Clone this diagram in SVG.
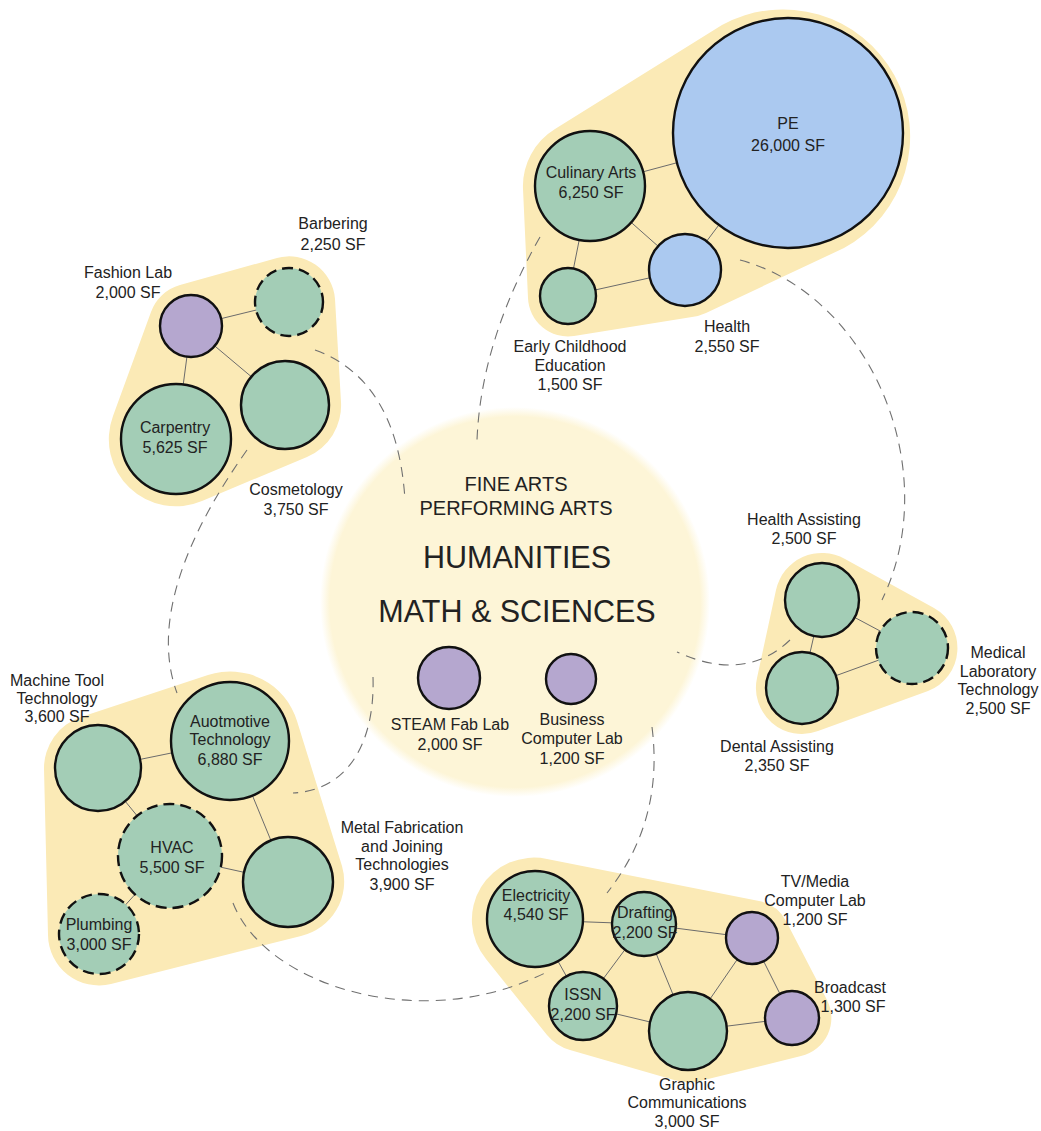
<svg xmlns="http://www.w3.org/2000/svg" width="1041" height="1131" viewBox="0 0 1041 1131">
<defs>
<radialGradient id="core" cx="50%" cy="50%" r="50%">
<stop offset="0.95" stop-color="#fdf5d7"/>
<stop offset="1" stop-color="#fdf5d7" stop-opacity="0"/>
</radialGradient>
<style>
.blob{fill:#fbeab6}
.edge{stroke:#6b6b6b;stroke-width:1;fill:none}
.arc{stroke:#707070;stroke-width:1.1;fill:none;stroke-dasharray:10 7}
.n{stroke:#111;stroke-width:2.4}
.dash{stroke-dasharray:11 6}
.g{fill:#a3cdb6}
.p{fill:#b5a7cf}
.b{fill:#abc9f0}
text{font-family:"Liberation Sans",Arial,Helvetica,sans-serif;font-size:16px;fill:#222;text-anchor:middle}
.big{font-size:30.5px}
.mid{font-size:20px}
</style>
</defs>
<rect width="1041" height="1131" fill="#ffffff"/>

<g id="backgrounds">
<circle id="core-area" cx="515" cy="602" r="195" fill="url(#core)"/>
<path id="blob-top" class="blob" d="M574,336 L692,317 A48 48 0 0 0 706,313 L844,248 A127 127 0 1 0 722,25 L555,129 A67 67 0 0 0 523,189 L528,298 A40 40 0 0 0 574,336 Z"/>
<path id="blob-lefttop" class="blob" d="M202,501 L307,457 A56 56 0 0 0 341,402 L335,299 A46 46 0 0 0 277,258 L180,285 A43 43 0 0 0 151,312 L113,416 A67 67 0 0 0 202,501 Z"/>
<path id="blob-leftbottom" class="blob" d="M111,984 L301,936 A56 56 0 0 0 342,866 L297,721 A70 70 0 0 0 208,675 L81,717 A54 54 0 0 0 44,769 L48,935 A51 51 0 0 0 111,984 Z"/>
<path id="blob-right" class="blob" d="M818,731 L928,691 A46 46 0 0 0 934,608 L845,559 A47 47 0 0 0 776,590 L757,678 A46 46 0 0 0 818,731 Z"/>
<path id="blob-bottom" class="blob" d="M570,1050 L674,1080 A51 51 0 0 0 700,1081 L801,1056 A39 39 0 0 0 827,1000 L786,921 A38 38 0 0 0 759,901 L547,859 A62 62 0 0 0 486,959 L547,1035 A46 46 0 0 0 570,1050 Z"/>
</g>

<g id="connectors">
<path class="arc" d="M540,237 Q481,341 477,440"/>
<path class="arc" d="M740,260 C870,295 945,470 882,600"/>
<path class="arc" d="M790,640 Q745,683 677,652"/>
<path class="arc" d="M315,350 C370,370 400,420 405,500"/>
<path class="arc" d="M247,450 C190,530 150,620 177,693"/>
<path class="arc" d="M373,677 C375,740 350,790 293,793"/>
<path class="arc" d="M233,903 C265,985 420,1035 545,973"/>
<path class="arc" d="M652,727 C660,790 645,845 607,893"/>

<line class="edge" x1="590" y1="186" x2="788" y2="133"/>
<line class="edge" x1="590" y1="186" x2="685" y2="270"/>
<line class="edge" x1="590" y1="186" x2="568" y2="296"/>
<line class="edge" x1="568" y1="296" x2="685" y2="270"/>
<line class="edge" x1="685" y1="270" x2="788" y2="133"/>

<line class="edge" x1="191" y1="326" x2="289" y2="302"/>
<line class="edge" x1="191" y1="326" x2="176" y2="439"/>
<line class="edge" x1="191" y1="326" x2="285" y2="405"/>

<line class="edge" x1="98" y1="768" x2="230" y2="741"/>
<line class="edge" x1="98" y1="768" x2="170" y2="856"/>
<line class="edge" x1="230" y1="741" x2="288" y2="882"/>
<line class="edge" x1="170" y1="856" x2="288" y2="882"/>
<line class="edge" x1="170" y1="856" x2="99" y2="934"/>

<line class="edge" x1="822" y1="600" x2="802" y2="688"/>
<line class="edge" x1="822" y1="600" x2="912" y2="648"/>
<line class="edge" x1="802" y1="688" x2="912" y2="648"/>

<line class="edge" x1="535" y1="920" x2="644" y2="924"/>
<line class="edge" x1="535" y1="920" x2="583" y2="1006"/>
<line class="edge" x1="644" y1="924" x2="583" y2="1006"/>
<line class="edge" x1="644" y1="924" x2="752" y2="938"/>
<line class="edge" x1="644" y1="924" x2="688" y2="1031"/>
<line class="edge" x1="583" y1="1006" x2="688" y2="1031"/>
<line class="edge" x1="752" y1="938" x2="688" y2="1031"/>
<line class="edge" x1="752" y1="938" x2="792" y2="1018"/>
<line class="edge" x1="688" y1="1031" x2="792" y2="1018"/>
</g>

<g id="core-labels">
<text class="mid" x="516" y="491">FINE ARTS</text>
<text class="mid" x="516" y="515">PERFORMING ARTS</text>
<text class="big" x="517" y="568">HUMANITIES</text>
<text class="big" x="517" y="622">MATH &amp; SCIENCES</text>
</g>

<g id="node-steam">
<circle class="n p" cx="449" cy="678" r="31"/>
<text x="450" y="730">STEAM Fab Lab</text>
<text x="450" y="750">2,000 SF</text>
</g>
<g id="node-business">
<circle class="n p" cx="571" cy="679" r="25"/>
<text x="572" y="725">Business</text>
<text x="572" y="744">Computer Lab</text>
<text x="572" y="764">1,200 SF</text>
</g>

<g id="node-pe">
<circle class="n b" cx="788" cy="133" r="115"/>
<text x="788" y="129">PE</text>
<text x="788" y="151">26,000 SF</text>
</g>
<g id="node-culinary">
<circle class="n g" cx="590" cy="186" r="55"/>
<text x="591" y="178">Culinary Arts</text>
<text x="591" y="198">6,250 SF</text>
</g>
<g id="node-early">
<circle class="n g" cx="568" cy="296" r="28"/>
<text x="570" y="352">Early Childhood</text>
<text x="570" y="371">Education</text>
<text x="570" y="390">1,500 SF</text>
</g>
<g id="node-health">
<circle class="n b" cx="685" cy="270" r="36"/>
<text x="727" y="332">Health</text>
<text x="727" y="352">2,550 SF</text>
</g>

<g id="node-fashion">
<text x="128" y="278">Fashion Lab</text>
<text x="128" y="298">2,000 SF</text>
<circle class="n p" cx="191" cy="326" r="31"/>
</g>
<g id="node-barbering">
<circle class="n g dash" cx="289" cy="302" r="34"/>
<text x="333" y="229">Barbering</text>
<text x="333" y="250">2,250 SF</text>
</g>
<g id="node-carpentry">
<circle class="n g" cx="176" cy="439" r="55"/>
<text x="175" y="433">Carpentry</text>
<text x="175" y="453">5,625 SF</text>
</g>
<g id="node-cosmetology">
<circle class="n g" cx="285" cy="405" r="44"/>
<text x="296" y="495">Cosmetology</text>
<text x="296" y="515">3,750 SF</text>
</g>

<g id="node-machine">
<text x="57" y="686">Machine Tool</text>
<text x="57" y="704">Technology</text>
<text x="57" y="722">3,600 SF</text>
<circle class="n g" cx="98" cy="768" r="43"/>
</g>
<g id="node-automotive">
<circle class="n g" cx="230" cy="741" r="59"/>
<text x="230" y="727">Auotmotive</text>
<text x="230" y="745">Technology</text>
<text x="230" y="765">6,880 SF</text>
</g>
<g id="node-hvac">
<circle class="n g dash" cx="170" cy="856" r="52"/>
<text x="172" y="853">HVAC</text>
<text x="172" y="873">5,500 SF</text>
</g>
<g id="node-metal">
<circle class="n g" cx="288" cy="882" r="45"/>
<text x="402" y="833">Metal Fabrication</text>
<text x="402" y="852">and Joining</text>
<text x="402" y="870">Technologies</text>
<text x="402" y="890">3,900 SF</text>
</g>
<g id="node-plumbing">
<circle class="n g dash" cx="99" cy="934" r="40"/>
<text x="99" y="930">Plumbing</text>
<text x="99" y="950">3,000 SF</text>
</g>

<g id="node-healthassist">
<circle class="n g" cx="822" cy="600" r="37"/>
<text x="804" y="525">Health Assisting</text>
<text x="804" y="544">2,500 SF</text>
</g>
<g id="node-dental">
<circle class="n g" cx="802" cy="688" r="36"/>
<text x="777" y="752">Dental Assisting</text>
<text x="777" y="771">2,350 SF</text>
</g>
<g id="node-medlab">
<circle class="n g dash" cx="912" cy="648" r="36"/>
<text x="998" y="658">Medical</text>
<text x="998" y="677">Laboratory</text>
<text x="998" y="695">Technology</text>
<text x="998" y="714">2,500 SF</text>
</g>

<g id="node-electricity">
<circle class="n g" cx="535" cy="919" r="48"/>
<text x="536" y="901">Electricity</text>
<text x="536" y="920">4,540 SF</text>
</g>
<g id="node-drafting">
<circle class="n g" cx="644" cy="924" r="32"/>
<text x="645" y="918">Drafting</text>
<text x="645" y="938">2,200 SF</text>
</g>
<g id="node-issn">
<circle class="n g" cx="583" cy="1006" r="34"/>
<text x="583" y="1000">ISSN</text>
<text x="583" y="1020">2,200 SF</text>
</g>
<g id="node-graphic">
<circle class="n g" cx="688" cy="1031" r="39"/>
<text x="687" y="1090">Graphic</text>
<text x="687" y="1108">Communications</text>
<text x="687" y="1127">3,000 SF</text>
</g>
<g id="node-tvmedia">
<circle class="n p" cx="752" cy="938" r="26"/>
<text x="815" y="887">TV/Media</text>
<text x="815" y="906">Computer Lab</text>
<text x="815" y="925">1,200 SF</text>
</g>
<g id="node-broadcast">
<circle class="n p" cx="792" cy="1018" r="27"/>
<text x="850" y="993">Broadcast</text>
<text x="853" y="1012">1,300 SF</text>
</g>
</svg>
